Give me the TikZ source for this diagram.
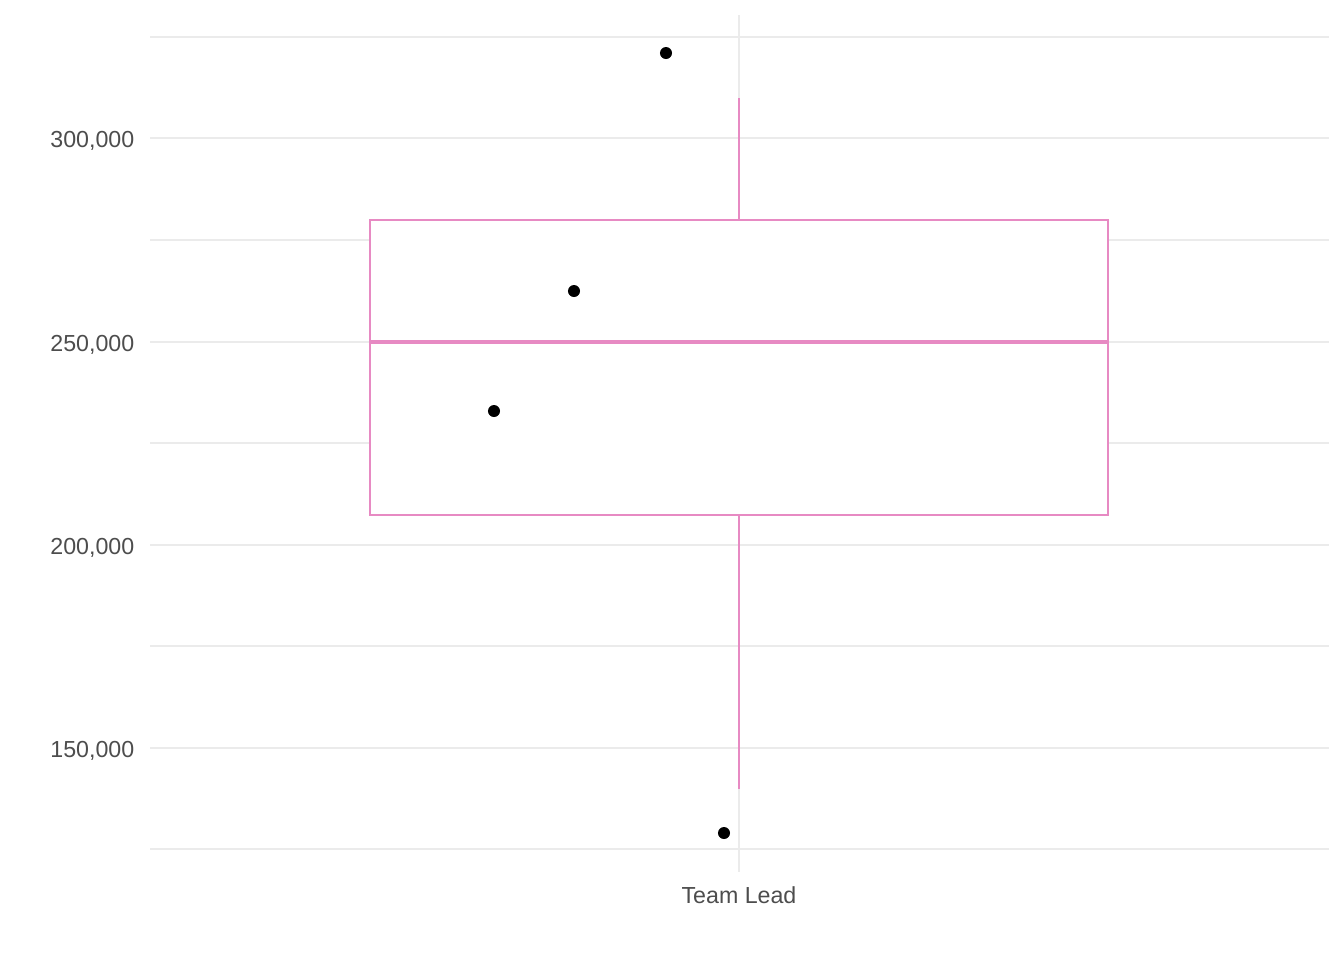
\documentclass[tikz,border=0pt]{standalone}
\usepackage{fontspec}
\setmainfont{Liberation Sans}
\definecolor{boxpink}{HTML}{E78AC3}
\definecolor{gridgray}{HTML}{EBEBEB}
\definecolor{axisgray}{HTML}{4D4D4D}
\begin{document}
\begin{tikzpicture}
[x=0.01cm,y=-0.01cm,
major/.style={draw=gridgray,line width=0.6pt},
minor/.style={draw=gridgray,line width=0.3pt},
boxline/.style={draw=boxpink,line width=0.7pt},
obs/.style={circle,fill=black,inner sep=0pt,minimum size=0.12cm},
ticklab/.style={text=axisgray,inner sep=0pt,font=\fontsize{6.6pt}{8pt}\selectfont}]
\useasboundingbox (0,0) rectangle (1344,960);
%grid
\foreach \y in {37,240,443,646,849}
{
	\draw[minor] (150,\y) -- (1329,\y);
}
\foreach \y / \v in {138/300,342/250,545/200,748/150}
{
	\draw[major] (150,\y) -- (1329,\y);
	\node[ticklab,anchor=east] (lab\v) at (135,\y+3) {\v,000};
}
\draw[major] (739,15) -- (739,872);
%box
\coordinate (top) at (739,98);
\coordinate (upper) at (739,220);
\coordinate (lower) at (739,515);
\coordinate (bottom) at (739,789);
\draw[boxline] (top) -- (upper);
\draw[boxline] (lower) -- (bottom);
\draw[boxline,fill=white] (370,220) rectangle (1108,515);
\draw[draw=boxpink,line width=1.4pt] (370,342) -- (1108,342);
%points
\node[obs] (p1) at (666,53) {};
\node[obs] (p2) at (574,291) {};
\node[obs] (p3) at (494,411) {};
\node[obs] (p4) at (724,833) {};
\node[ticklab] (team) at (739,895) {Team Lead};
\end{tikzpicture}
\end{document}
